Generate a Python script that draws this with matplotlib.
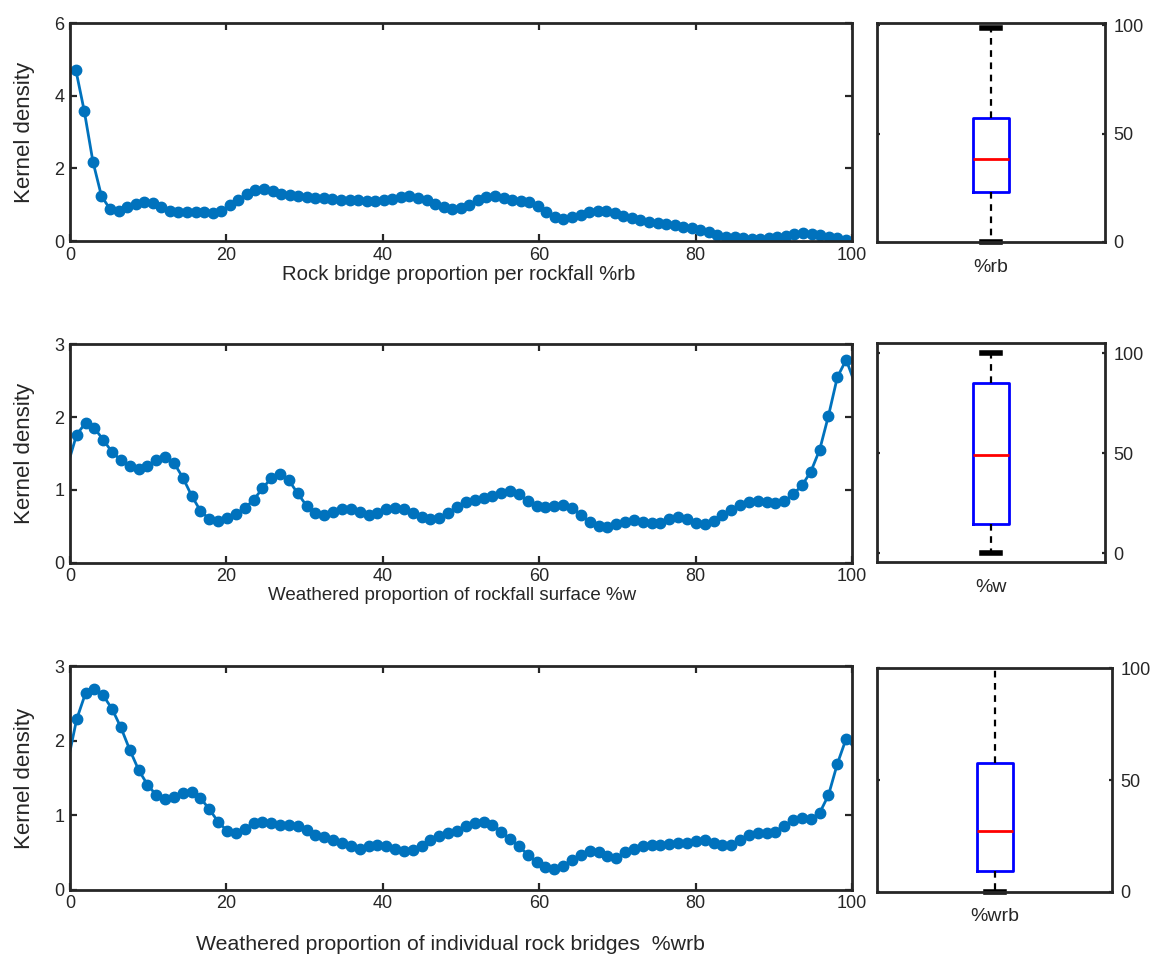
import numpy as np
import matplotlib
matplotlib.use("Agg")
import matplotlib.pyplot as plt

plt.rcParams['font.family'] = ['Liberation Sans', 'DejaVu Sans']
plt.rcParams['text.color'] = '#262626'
plt.rcParams['axes.labelcolor'] = '#262626'
plt.rcParams['xtick.color'] = '#262626'
plt.rcParams['ytick.color'] = '#262626'

# ---------------- data ----------------
# kernel-density evaluation grids (start, step, count)
rb_grid = (0.74, 1.094, 91)
w_grid = (-0.28, 1.131, 90)
wrb_grid = (-0.28, 1.131, 90)

rb_density = [4.72, 3.57, 2.19, 1.24, 0.88, 0.84, 0.93, 1.03, 1.08, 1.05,
              0.95, 0.84, 0.79, 0.80, 0.81, 0.80, 0.78, 0.83, 0.98, 1.14,
              1.30, 1.41, 1.43, 1.37, 1.30, 1.26, 1.23, 1.21, 1.19, 1.18,
              1.16, 1.14, 1.13, 1.12, 1.11, 1.10, 1.12, 1.16, 1.21, 1.23,
              1.19, 1.12, 1.02, 0.93, 0.88, 0.91,
              1.00, 1.12, 1.21, 1.24, 1.19, 1.14, 1.11, 1.07, 0.97, 0.79,
              0.67, 0.62, 0.67, 0.73, 0.79, 0.83, 0.82, 0.76, 0.69, 0.63,
              0.57, 0.53, 0.50, 0.48, 0.44, 0.40, 0.36, 0.30, 0.24, 0.17,
              0.12, 0.10, 0.08, 0.06, 0.06, 0.08, 0.11, 0.15, 0.19, 0.21,
              0.20, 0.17, 0.12, 0.09, 0.03]

w_density = [1.35,
             1.76, 1.92, 1.85, 1.69, 1.52, 1.41, 1.33, 1.29, 1.33, 1.41,
             1.45, 1.37, 1.17, 0.92, 0.71, 0.60, 0.57, 0.61, 0.67, 0.75,
             0.86, 1.02, 1.16, 1.22, 1.13, 0.95, 0.78, 0.68, 0.66, 0.70,
             0.74, 0.74, 0.70, 0.66, 0.68, 0.73, 0.75, 0.74, 0.68, 0.63,
             0.60, 0.61, 0.68, 0.77,
             0.83, 0.86, 0.89, 0.92, 0.95, 0.98, 0.94, 0.85, 0.78, 0.76,
             0.78, 0.79, 0.75, 0.66, 0.56, 0.50, 0.49, 0.53, 0.56, 0.58,
             0.56, 0.54, 0.55, 0.60, 0.62, 0.60, 0.54, 0.53, 0.57, 0.65,
             0.72, 0.79, 0.83, 0.85, 0.83, 0.82, 0.84, 0.94, 1.06, 1.25,
             1.55, 2.02, 2.55, 2.79,
             2.46]

wrb_density = [1.72,
               2.29, 2.64, 2.70, 2.61, 2.43, 2.18, 1.88, 1.61, 1.41, 1.27,
               1.22, 1.24, 1.30, 1.31, 1.23, 1.08, 0.91, 0.79, 0.76, 0.82,
               0.89, 0.91, 0.89, 0.87, 0.87, 0.85, 0.80, 0.73, 0.70, 0.67,
               0.63, 0.58, 0.55, 0.58, 0.60, 0.59, 0.55, 0.52, 0.53, 0.59,
               0.67, 0.72, 0.76, 0.79,
               0.85, 0.89, 0.91, 0.87, 0.78, 0.68, 0.58, 0.47, 0.37, 0.30,
               0.27, 0.32, 0.40, 0.47, 0.52, 0.50, 0.45, 0.43, 0.50, 0.55,
               0.59, 0.60, 0.60, 0.61, 0.62, 0.63, 0.65, 0.66, 0.63, 0.60,
               0.60, 0.67, 0.73, 0.76, 0.76, 0.78, 0.86, 0.93, 0.96, 0.95,
               1.03, 1.27, 1.69, 2.03,
               1.90]

# boxplot summaries: whisker low, q1, median, q3, whisker high
box_labels = ['%rb', '%w', '%wrb']
box_whislo = [0, 0, 0]
box_q1 = [23.2, 14.9, 9.4]
box_med = [38.5, 49.0, 27.0]
box_q3 = [57.1, 85.0, 57.5]
box_whishi = [98.7, 100.0, 103.0]

xlabels = ['Rock bridge proportion per rockfall %rb',
           'Weathered proportion of rockfall surface %w',
           'Weathered proportion of individual rock bridges  %wrb']
ylims = [(0, 6), (0, 3), (0, 3)]
yticks = [[0, 2, 4, 6], [0, 1, 2, 3], [0, 1, 2, 3]]
xticks = [0, 20, 40, 60, 80, 100]
box_ylims = [(0, 101), (-4.5, 105), (0, 100)]
box_yticks = [0, 50, 100]

# ---------------- layout ----------------
fig = plt.figure(figsize=(11.61, 9.58), dpi=100)
main_rects = [(0.0603, 0.7484, 0.6736, 0.2273),
              (0.0603, 0.4128, 0.6736, 0.2276),
              (0.0603, 0.0715, 0.6736, 0.2328)]
box_rects = [(0.7554, 0.7474, 0.1964, 0.2283),
             (0.7554, 0.4130, 0.1964, 0.2287),
             (0.7556, 0.0692, 0.2024, 0.2332)]
xlabel_pos = [(0.497, -0.112), (0.488, -0.112), (0.487, -0.205)]
xlabel_fs = [14.7, 13.5, 15.3]

spine_c = '#262626'
line_c = '#0072BD'
fs = 13.5

grids = [rb_grid, w_grid, wrb_grid]
dens = [rb_density, w_density, wrb_density]

for i in range(3):
    ax = fig.add_axes(main_rects[i])
    x0, step, n = grids[i]
    x = x0 + step * np.arange(n)
    y = np.array(dens[i])
    inside = [k for k in range(n) if 0 <= x[k] <= 100]
    ax.plot(x, y, '-', color=line_c, lw=2.0, marker='o', ms=7.5,
            markevery=inside, mec=line_c, mfc=line_c)
    ax.set_xlim(0, 100)
    ax.set_ylim(*ylims[i])
    ax.set_xticks(xticks)
    ax.set_yticks(yticks[i])
    ax.tick_params(direction='in', length=5, width=1.6, top=True, right=True,
                   labelsize=fs - 0.5, pad=4)
    for s in ax.spines.values():
        s.set_linewidth(2.0)
        s.set_color(spine_c)
    ax.set_xlabel(xlabels[i], fontsize=xlabel_fs[i])
    ax.xaxis.set_label_coords(*xlabel_pos[i])
    ax.set_ylabel('Kernel density', fontsize=16, labelpad=14)

    # boxplot panel
    bx = fig.add_axes(box_rects[i])
    stats = [dict(med=box_med[i], q1=box_q1[i], q3=box_q3[i],
                  whislo=box_whislo[i], whishi=box_whishi[i], fliers=[],
                  label=box_labels[i])]
    art = bx.bxp(stats, positions=[1], widths=0.155, showfliers=False,
                 boxprops=dict(color='#0000FF', lw=2.0),
                 medianprops=dict(color='#FF0000', lw=2.0),
                 whiskerprops=dict(color='black', lw=1.6, ls=(0, (3, 2.5))),
                 capprops=dict(color='black', lw=4.0),
                 capwidths=0.075)
    art['caps'][0].set_clip_on(False)
    bx.set_xlim(0.5, 1.5)
    bx.set_ylim(*box_ylims[i])
    bx.set_yticks(box_yticks)
    bx.yaxis.tick_right()
    bx.tick_params(axis='y', direction='in', length=2.5, width=1.6,
                   left=True, right=True, labelleft=False, labelright=True,
                   labelsize=fs - 0.5, pad=6)
    bx.tick_params(axis='x', length=0, labelsize=fs + 0.5, pad=12)
    for s in bx.spines.values():
        s.set_linewidth(2.0)
        s.set_color(spine_c)

fig.savefig('out.png', dpi=100)
